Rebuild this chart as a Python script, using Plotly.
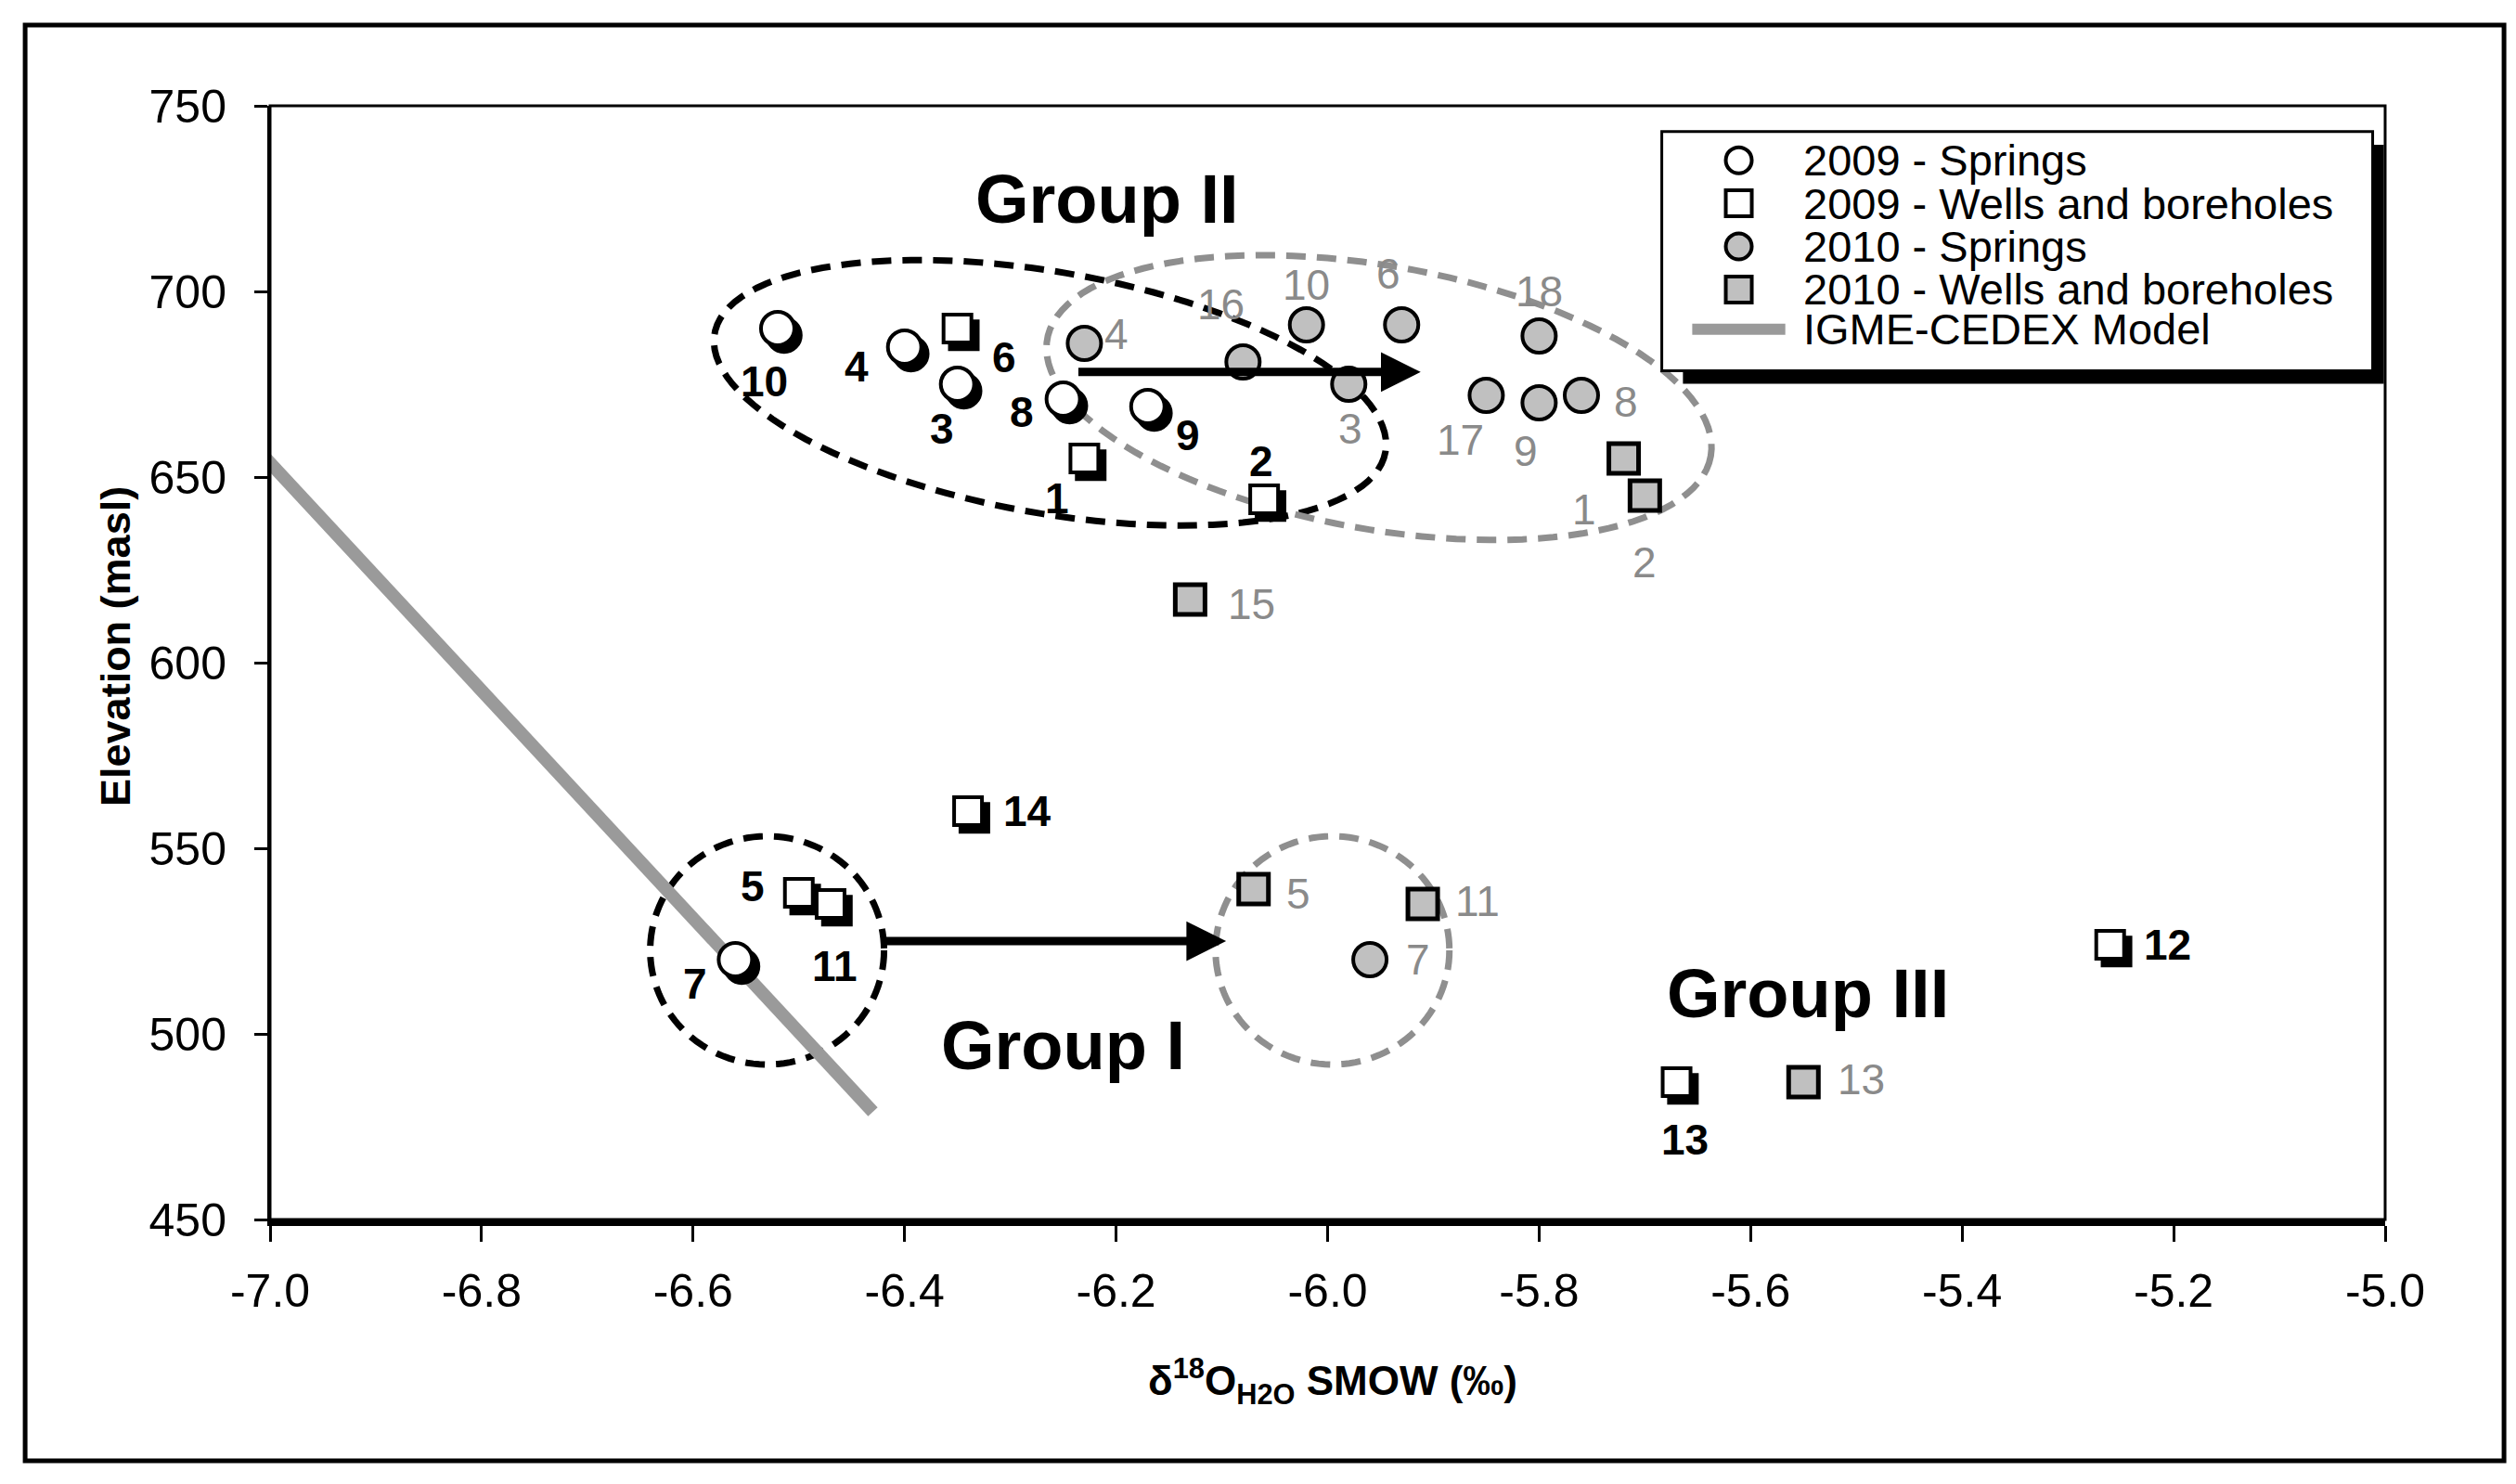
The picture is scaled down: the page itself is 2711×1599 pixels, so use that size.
import numpy as np
import plotly.graph_objects as go

FONT = "Liberation Sans, Arial, sans-serif"

# ---------------- data ----------------
# 2009 - Springs
s09_x = [-6.52, -6.40, -6.35, -6.25, -6.17, -6.56]
s09_y = [690, 685, 675, 671, 669, 520]
s09_lab = ["10", "4", "3", "8", "9", "7"]
s09_off = [(-14, -57), (-52, -21), (-17, -48), (-45, -14), (43, -31), (-43, -26)]

# 2009 - Wells and boreholes
w09_x = [-6.35, -6.23, -6.06, -6.34, -6.50, -6.47, -5.26, -5.67]
w09_y = [690, 655, 644, 560, 538, 535, 524, 487]
w09_lab = ["6", "1", "2", "14", "5", "11", "12", "13"]
w09_off = [(50, -31), (-29, -43), (-3, 41), (64, 0), (-50, 7), (5, -67), (62, 0), (9, -62)]

# 2010 - Springs
s10_x = [-6.23, -6.08, -6.02, -5.93, -5.98, -5.80, -5.85, -5.80, -5.76, -5.96]
s10_y = [686, 681, 691, 691, 675, 688, 672, 670, 672, 520]
s10_lab = ["4", "16", "10", "6", "3", "18", "17", "9", "8", "7"]
s10_off = [(35, 10), (-24, 62), (0, 43), (-14, 55), (2, -48), (0, 48), (-28, -48), (-14, -52), (48, -7), (52, 0)]

# 2010 - Wells and boreholes
w10_x = [-5.72, -5.70, -6.07, -5.91, -5.55, -6.13]
w10_y = [655, 645, 539, 535, 487, 617]
w10_lab = ["1", "2", "5", "11", "13", "15"]
w10_off = [(-43, -55), (0, -72), (48, -5), (59, 3), (62, 3), (66, -5)]

# IGME-CEDEX Model line
model_x = [-7.03, -6.43]
model_y = [663, 479]

x_ticks = [-7.0, -6.8, -6.6, -6.4, -6.2, -6.0, -5.8, -5.6, -5.4, -5.2, -5.0]
x_ticktext = ["-7.0", "-6.8", "-6.6", "-6.4", "-6.2", "-6.0", "-5.8", "-5.6", "-5.4", "-5.2", "-5.0"]
y_ticks = [450, 500, 550, 600, 650, 700, 750]

legend_labels = ["2009 - Springs", "2009 - Wells and boreholes", "2010 - Springs",
                 "2010 - Wells and boreholes", "IGME-CEDEX Model"]

group_labels = ["Group II", "Group I", "Group III"]
group_x = [-6.208, -6.25, -5.546]
group_y = [725, 497, 511]

# ---------------- style ----------------
GRAY_FILL = "#c0c0c0"
GRAY_TXT = "#8a8a8a"
GRAY_ELL = "#8f8f8f"
GRAY_LINE = "#9a9a9a"
SH_DX, SH_DY = 0.006, -1.8   # drop-shadow offset of 2009 markers

W, H = 2711, 1599
ML, MR, MT, MB = 283, 149, 106, 293
PXX = (W - ML - MR) / 2.0     # px per x unit
PXY = (H - MT - MB) / 300.0   # px per y unit

fig = go.Figure()

# model line
fig.add_trace(go.Scatter(x=model_x, y=model_y, mode="lines",
                         line=dict(color=GRAY_LINE, width=14), hoverinfo="skip"))

# 2009 springs (shadow + marker)
fig.add_trace(go.Scatter(x=[v + SH_DX for v in s09_x], y=[v + SH_DY for v in s09_y], mode="markers",
                         marker=dict(symbol="circle", size=36, color="black",
                                     line=dict(color="black", width=4))))
fig.add_trace(go.Scatter(x=s09_x, y=s09_y, mode="markers",
                         marker=dict(symbol="circle", size=36, color="white",
                                     line=dict(color="black", width=4))))
# 2009 wells
fig.add_trace(go.Scatter(x=[v + SH_DX for v in w09_x], y=[v + SH_DY for v in w09_y], mode="markers",
                         marker=dict(symbol="square", size=30, color="black",
                                     line=dict(color="black", width=4))))
fig.add_trace(go.Scatter(x=w09_x, y=w09_y, mode="markers",
                         marker=dict(symbol="square", size=30, color="white",
                                     line=dict(color="black", width=4))))
# 2010 springs
fig.add_trace(go.Scatter(x=s10_x, y=s10_y, mode="markers",
                         marker=dict(symbol="circle", size=36, color=GRAY_FILL,
                                     line=dict(color="black", width=4))))
# 2010 wells
fig.add_trace(go.Scatter(x=w10_x, y=w10_y, mode="markers",
                         marker=dict(symbol="square", size=32, color=GRAY_FILL,
                                     line=dict(color="black", width=5))))

annotations = []


def add_labels(xs, ys, labs, offs, color, bold):
    for x, y, t, (dx, dy) in zip(xs, ys, labs, offs):
        annotations.append(dict(x=x, y=y, xref="x", yref="y", text=("<b>%s</b>" % t) if bold else t,
                                showarrow=False, xshift=dx, yshift=dy,
                                font=dict(family=FONT, size=46, color=color)))


add_labels(s09_x, s09_y, s09_lab, s09_off, "black", True)
add_labels(w09_x, w09_y, w09_lab, w09_off, "black", True)
add_labels(s10_x, s10_y, s10_lab, s10_off, GRAY_TXT, False)
add_labels(w10_x, w10_y, w10_lab, w10_off, GRAY_TXT, False)

for t, x, y in zip(group_labels, group_x, group_y):
    annotations.append(dict(x=x, y=y, xref="x", yref="y", text="<b>%s</b>" % t, showarrow=False,
                            font=dict(family=FONT, size=74, color="black")))

# arrows
for (x0, x1, yy) in [(-6.237, -5.912, 678.3), (-6.42, -6.096, 525.0)]:
    annotations.append(dict(x=x1, y=yy, ax=x0, ay=yy, xref="x", yref="y", axref="x", ayref="y",
                            text="", showarrow=True, arrowhead=2, arrowsize=0.95, arrowwidth=9,
                            arrowcolor="black", standoff=0))

# axis titles
annotations.append(dict(x=-0.0733, y=0.515, xref="paper", yref="paper", text="<b>Elevation (masl)</b>",
                        textangle=-90, showarrow=False, xanchor="center", yanchor="middle",
                        font=dict(family=FONT, size=45, color="black")))
annotations.append(dict(x=0.5024, y=-0.145, xref="paper", yref="paper",
                        text="<b>δ<sup>18</sup>O<sub>H2O</sub> SMOW (‰)</b>",
                        showarrow=False, xanchor="center", yanchor="middle",
                        font=dict(family=FONT, size=44, color="black")))

# ---------------- shapes ----------------
shapes = []


def ellipse_path(cx, cy, a, b, theta_deg, n=120):
    th = np.deg2rad(theta_deg)
    phi = np.linspace(0, 2 * np.pi, n)
    px = a * np.cos(phi) * np.cos(th) - b * np.sin(phi) * np.sin(th)
    py = a * np.cos(phi) * np.sin(th) + b * np.sin(phi) * np.cos(th)
    xs = cx + px / PXX
    ys = cy - py / PXY
    return "M " + " L ".join("%.5f,%.4f" % (u, v) for u, v in zip(xs, ys)) + " Z"


for (cx, cy, a, b, th, col) in [(-6.2625, 672.7, 367, 130, 10, "black"),
                                (-5.9514, 671.4, 363, 142, 10, GRAY_ELL),
                                (-6.530, 522.5, 126, 123, 0, "black"),
                                (-5.9954, 522.5, 126, 123, 0, GRAY_ELL)]:
    shapes.append(dict(type="path", xref="x", yref="y", path=ellipse_path(cx, cy, a, b, th),
                       line=dict(color=col, width=7, dash="21px,12px"), layer="below"))

# plot-area border
shapes.append(dict(type="rect", xref="paper", yref="paper", x0=0, x1=1, y0=0, y1=1,
                   line=dict(color="black", width=3)))
# outer frame
shapes.append(dict(type="rect", xref="paper", yref="paper", x0=-0.1158, x1=1.0562, y0=-0.2167, y1=1.0725,
                   line=dict(color="black", width=5)))

# legend: shadow + box
shapes.append(dict(type="rect", xref="paper", yref="paper", x0=0.668, x1=0.9994, y0=0.7505, y1=0.965,
                   fillcolor="black", line=dict(width=0)))
shapes.append(dict(type="rect", xref="paper", yref="paper", x0=0.658, x1=0.9941, y0=0.762, y1=0.9769,
                   fillcolor="white", line=dict(color="black", width=3)))

leg_rows = [0.9511, 0.9124, 0.8737, 0.8351, 0.7993]
leg_mx = 0.6944
hx, hy = 14 / 2279, 14 / 1200
leg_kinds = [("circle", "white"), ("rect", "white"), ("circle", GRAY_FILL), ("rect", GRAY_FILL)]
for (kind, fill), ry in zip(leg_kinds, leg_rows[:4]):
    shapes.append(dict(type=kind, xref="paper", yref="paper", x0=leg_mx - hx, x1=leg_mx + hx,
                       y0=ry - hy, y1=ry + hy, fillcolor=fill, line=dict(color="black", width=4)))
shapes.append(dict(type="line", xref="paper", yref="paper", x0=0.6724, x1=0.7164,
                   y0=leg_rows[4], y1=leg_rows[4], line=dict(color=GRAY_LINE, width=12)))
for t, ry in zip(legend_labels, leg_rows):
    annotations.append(dict(x=0.724, y=ry, xref="paper", yref="paper", text=t, xanchor="left",
                            yanchor="middle", showarrow=False,
                            font=dict(family=FONT, size=47, color="black")))

fig.update_layout(
    width=W, height=H,
    margin=dict(l=ML, r=MR, t=MT, b=MB),
    paper_bgcolor="white", plot_bgcolor="rgba(0,0,0,0)",
    showlegend=False,
    font=dict(family=FONT, color="black"),
    shapes=shapes, annotations=annotations,
    xaxis=dict(range=[-7, -5], tickvals=x_ticks, ticktext=x_ticktext, showgrid=False, zeroline=False,
               showline=True, linecolor="black", linewidth=7, ticks="outside", ticklen=17, tickwidth=3,
               tickcolor="black", tickfont=dict(family=FONT, size=50, color="black"),
               ticklabelstandoff=10),
    yaxis=dict(range=[450, 750], tickvals=y_ticks, showgrid=False, zeroline=False,
               showline=True, linecolor="black", linewidth=3, ticks="outside", ticklen=14, tickwidth=3,
               tickcolor="black", tickfont=dict(family=FONT, size=50, color="black"),
               ticklabelstandoff=20),
)
for tr in fig.data:
    tr.update(showlegend=False, cliponaxis=False, hoverinfo="skip")

fig.write_html("out.html")
